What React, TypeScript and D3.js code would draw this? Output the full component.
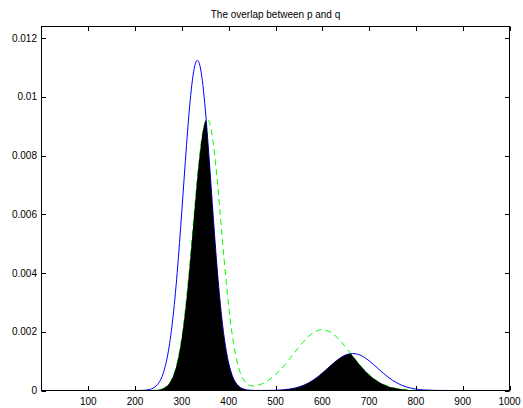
import React from 'react';
import * as d3 from 'd3';

// sample grid: 0..1000 every 10
const xs = d3.range(0, 1001, 10);

// p (blue, solid)
const pValues = [
  0, 0, 0, 0, 0, 0, 0, 0, 0, 0,
  0, 0, 0, 0, 0, 0, 0, 0, 0, 0.0000001,
  0.0000006, 0.0000025, 0.0000093, 0.000031, 0.000092, 0.000245, 0.000583, 0.001241, 0.002363, 0.004028,
  0.006144, 0.008386, 0.010242, 0.011194, 0.010949, 0.009582, 0.007504, 0.005258, 0.003297, 0.001851,
  0.000929, 0.000417, 0.000168, 0.00006, 0.00002, 0.000006, 0.000002, 0.000002, 0.000003, 0.000005,
  0.00001, 0.000018, 0.00003, 0.000049, 0.000078, 0.00012, 0.000177, 0.000253, 0.000348, 0.000463,
  0.000594, 0.000735, 0.000879, 0.001013, 0.001127, 0.001211, 0.001254, 0.001254, 0.001211, 0.001127,
  0.001013, 0.000879, 0.000735, 0.000594, 0.000463, 0.000348, 0.000253, 0.000177, 0.00012, 0.000078,
  0.000049, 0.00003, 0.000018, 0.00001, 0.000005, 0.000003, 0.000002, 0.000001, 0, 0,
  0, 0, 0, 0, 0, 0, 0, 0, 0, 0,
  0,
];

// q (green, dashed)
const qValues = [
  0, 0, 0, 0, 0, 0, 0, 0, 0, 0,
  0, 0, 0, 0, 0, 0, 0, 0, 0, 0,
  0, 0.0000001, 0.0000004, 0.0000018, 0.0000068, 0.0000228, 0.0000683, 0.000184, 0.000441, 0.00095,
  0.001831, 0.003155, 0.004867, 0.006716, 0.008295, 0.009169, 0.009068, 0.008025, 0.006357, 0.004509,
  0.002865, 0.001638, 0.000849, 0.000417, 0.000218, 0.000157, 0.000167, 0.000219, 0.0003, 0.000407,
  0.00054, 0.000697, 0.000876, 0.001072, 0.001276, 0.001479, 0.001669, 0.001834, 0.001962, 0.002042,
  0.00207, 0.002042, 0.001962, 0.001834, 0.001669, 0.001479, 0.001276, 0.001072, 0.000876, 0.000697,
  0.00054, 0.000407, 0.000299, 0.000214, 0.000149, 0.000101, 0.000066, 0.000043, 0.000027, 0.000016,
  0.00001, 0.000006, 0.000003, 0.000002, 0.000001, 0, 0, 0, 0, 0,
  0, 0, 0, 0, 0, 0, 0, 0, 0, 0,
  0,
];

const xTicks = [100, 200, 300, 400, 500, 600, 700, 800, 900, 1000];
const yTicks = [0, 0.002, 0.004, 0.006, 0.008, 0.01, 0.012];
const yTickLabels = ['0', '0.002', '0.004', '0.006', '0.008', '0.01', '0.012'];

const title = 'The overlap between p and q';
const font = '"Liberation Sans", Arial, Helvetica, sans-serif';

export default function App() {
  const width = 523;
  const height = 408;
  const left = 41.5, right = 509.5, top = 26.5, bottom = 390.5;
  const tick = 4.5;

  const x = d3.scaleLinear().domain([0, 1000]).range([left, right]);
  const y = d3.scaleLinear().domain([0, 0.0124]).range([bottom, top]);

  const pts = (vals: number[]) => xs.map((xv, i) => [xv, vals[i]] as [number, number]);

  const line = d3.line<[number, number]>()
    .x(d => x(d[0]))
    .y(d => y(d[1]))
    .curve(d3.curveNatural);

  const area = d3.area<[number, number]>()
    .x(d => x(d[0]))
    .y0(y(0))
    .y1(d => y(d[1]))
    .curve(d3.curveNatural);

  const pPts = pts(pValues);
  const qPts = pts(qValues);

  return (
    <>
      <style>{`body{margin:0}`}</style>
      <svg width={width} height={height} style={{ display: 'block', background: '#fff' }}>
        <defs>
          <clipPath id="underQ">
            <path d={area(qPts) || ''} />
          </clipPath>
          <clipPath id="plotArea">
            <rect x={left} y={top} width={right - left} height={bottom - top} />
          </clipPath>
        </defs>

        <text x={(left + right) / 2} y={18} textAnchor="middle" fontFamily={font} fontSize={10} fill="#000">
          {title}
        </text>

        <g clipPath="url(#plotArea)">
          <path d={line(pPts) || ''} fill="none" stroke="#0000ff" strokeWidth={1} />
          <path d={line(qPts) || ''} fill="none" stroke="#00ff00" strokeWidth={1} strokeDasharray="6,4" />
          {/* overlap: area under p, clipped to area under q */}
          <path d={area(pPts) || ''} fill="#000" clipPath="url(#underQ)" />
        </g>

        {/* box */}
        <rect x={left} y={top} width={right - left} height={bottom - top} fill="none" stroke="#000" strokeWidth={1} />

        {xTicks.map(t => (
          <g key={'x' + t}>
            <line x1={Math.round(x(t)) + 0.5} x2={Math.round(x(t)) + 0.5} y1={bottom} y2={bottom - tick} stroke="#000" />
            <line x1={Math.round(x(t)) + 0.5} x2={Math.round(x(t)) + 0.5} y1={top} y2={top + tick} stroke="#000" />
            <text x={x(t)} y={404.5} textAnchor="middle" fontFamily={font} fontSize={10} fill="#000">{t}</text>
          </g>
        ))}

        {yTicks.map((t, i) => (
          <g key={'y' + t}>
            <line x1={left} x2={left + tick} y1={Math.round(y(t)) + 0.5} y2={Math.round(y(t)) + 0.5} stroke="#000" />
            <line x1={right} x2={right - tick} y1={Math.round(y(t)) + 0.5} y2={Math.round(y(t)) + 0.5} stroke="#000" />
            <text x={37} y={y(t)} dy="0.35em" textAnchor="end" fontFamily={font} fontSize={10} fill="#000">
              {yTickLabels[i]}
            </text>
          </g>
        ))}
      </svg>
    </>
  );
}
